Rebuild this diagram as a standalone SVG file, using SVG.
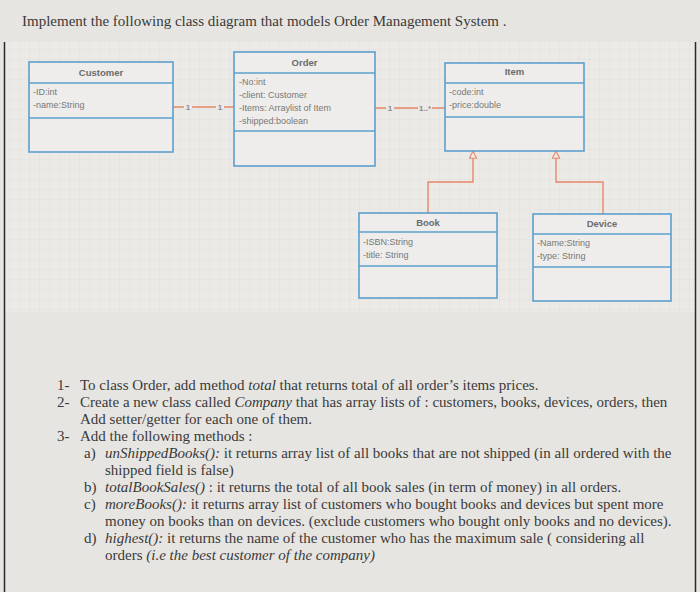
<svg xmlns="http://www.w3.org/2000/svg" width="700" height="592" viewBox="0 0 700 592">
<defs>
<pattern id="grid" width="10" height="10" patternUnits="userSpaceOnUse">
<rect width="10" height="10" fill="#ebeae7"/>
<path d="M10 0V10M0 10H10" stroke="#dddcd9" stroke-width="0.6" fill="none"/>
</pattern>
<marker id="tri" viewBox="0 0 10 10" refX="9.5" refY="5" markerWidth="8" markerHeight="9" markerUnits="userSpaceOnUse" orient="auto">
<path d="M0.5,0.5 L9.5,5 L0.5,9.5 Z" fill="#ebeae7" stroke="#e8876a" stroke-width="1.4"/>
</marker>
</defs>
<style>
.box{fill:#eeedeb;stroke:#5d9fcd;stroke-width:1.6}
.div{stroke:#5d9fcd;stroke-width:1.6}
.hd{font-family:"Liberation Sans",Arial,sans-serif;font-size:9.5px;font-weight:bold;fill:#6b6b6b;text-anchor:middle}
.at{font-family:"Liberation Sans",Arial,sans-serif;font-size:9px;fill:#787878}
.mul{font-family:"Liberation Sans",Arial,sans-serif;font-size:8px;font-weight:bold;fill:#8a8a8a;text-anchor:middle}
.con{stroke:#e8876a;stroke-width:1.4;fill:none}
.tx{font-family:"Liberation Serif","Times New Roman",serif;font-size:15px;fill:#3a3a3a}
.it{font-style:italic}
</style>
<rect width="700" height="592" fill="#e7e5e1"/>
<rect x="5" y="42" width="690" height="270" fill="url(#grid)"/>
<line x1="4.5" y1="42" x2="4.5" y2="592" stroke="#2a2a2a" stroke-width="1.5"/>
<line x1="695.5" y1="42" x2="695.5" y2="592" stroke="#2a2a2a" stroke-width="1.5"/>

<text class="tx" x="22" y="26" font-size="15.5px">Implement the following class diagram that models Order Management System .</text>

<g id="connectors">
<path class="con" d="M173 107H184M192 107H216M224 107H234"/>
<text class="mul" x="188" y="110">1</text>
<text class="mul" x="220" y="110">1</text>
<path class="con" d="M375 108H386M394 108H418M432 108H445"/>
<text class="mul" x="390" y="111">1</text>
<text class="mul" x="425" y="111">1..*</text>
<path class="con" d="M428 213V182H473V151" marker-end="url(#tri)"/>
<path class="con" d="M603 214V182H556V151" marker-end="url(#tri)"/>
</g>

<g id="customer">
<rect class="box" x="29" y="62" width="144" height="90"/>
<line class="div" x1="29" y1="83" x2="173" y2="83"/>
<line class="div" x1="29" y1="118" x2="173" y2="118"/>
<text class="hd" x="101" y="76">Customer</text>
<text class="at" x="33" y="95">-ID:int</text>
<text class="at" x="33" y="108">-name:String</text>
</g>

<g id="order">
<rect class="box" x="234" y="52" width="141" height="114"/>
<line class="div" x1="234" y1="73" x2="375" y2="73"/>
<line class="div" x1="234" y1="131" x2="375" y2="131"/>
<text class="hd" x="304.5" y="66">Order</text>
<text class="at" x="239" y="85">-No:int</text>
<text class="at" x="239" y="98">-client: Customer</text>
<text class="at" x="239" y="111">-Items: Arraylist of Item</text>
<text class="at" x="239" y="124">-shipped:boolean</text>
</g>

<g id="item">
<rect class="box" x="445" y="63" width="139" height="88"/>
<line class="div" x1="445" y1="83" x2="584" y2="83"/>
<line class="div" x1="445" y1="117" x2="584" y2="117"/>
<text class="hd" x="514.5" y="75">Item</text>
<text class="at" x="449" y="95">-code:int</text>
<text class="at" x="449" y="108">-price:double</text>
</g>

<g id="book">
<rect class="box" x="359" y="213" width="138" height="85"/>
<line class="div" x1="359" y1="232" x2="497" y2="232"/>
<line class="div" x1="359" y1="266" x2="497" y2="266"/>
<text class="hd" x="428" y="226">Book</text>
<text class="at" x="363" y="245">-ISBN:String</text>
<text class="at" x="363" y="258">-title: String</text>
</g>

<g id="device">
<rect class="box" x="533" y="214" width="138" height="87"/>
<line class="div" x1="533" y1="234" x2="671" y2="234"/>
<line class="div" x1="533" y1="267" x2="671" y2="267"/>
<text class="hd" x="602" y="227">Device</text>
<text class="at" x="537" y="246">-Name:String</text>
<text class="at" x="537" y="259">-type: String</text>
</g>

<g id="instructions">
<text class="tx" x="57" y="390">1-</text>
<text class="tx" x="80" y="390">To class Order, add method <tspan class="it">total</tspan> that returns total of all order’s items prices.</text>
<text class="tx" x="57" y="407">2-</text>
<text class="tx" x="80" y="407">Create a new class called <tspan class="it">Company</tspan> that has array lists of : customers, books, devices, orders, then</text>
<text class="tx" x="80" y="424">Add setter/getter for each one of them.</text>
<text class="tx" x="57" y="441">3-</text>
<text class="tx" x="80" y="441">Add the following methods :</text>
<text class="tx" x="84" y="458">a)</text>
<text class="tx" x="105" y="458"><tspan class="it">unShippedBooks():</tspan> it returns array list of all books that are not shipped (in all ordered with the</text>
<text class="tx" x="105" y="475">shipped field is false)</text>
<text class="tx" x="84" y="492">b)</text>
<text class="tx" x="105" y="492"><tspan class="it">totalBookSales()</tspan> : it returns the total of  all book sales (in term of money) in all orders.</text>
<text class="tx" x="84" y="509">c)</text>
<text class="tx" x="105" y="509"><tspan class="it">moreBooks():</tspan> it returns array list of customers who bought books and devices but spent more</text>
<text class="tx" x="105" y="526">money on books than on devices. (exclude customers who bought only books and no devices).</text>
<text class="tx" x="84" y="543">d)</text>
<text class="tx" x="105" y="543"><tspan class="it">highest():</tspan> it returns the name of the customer who has the maximum sale ( considering all</text>
<text class="tx" x="105" y="560">orders <tspan class="it">(i.e the best customer of the company)</tspan></text>
</g>
</svg>
